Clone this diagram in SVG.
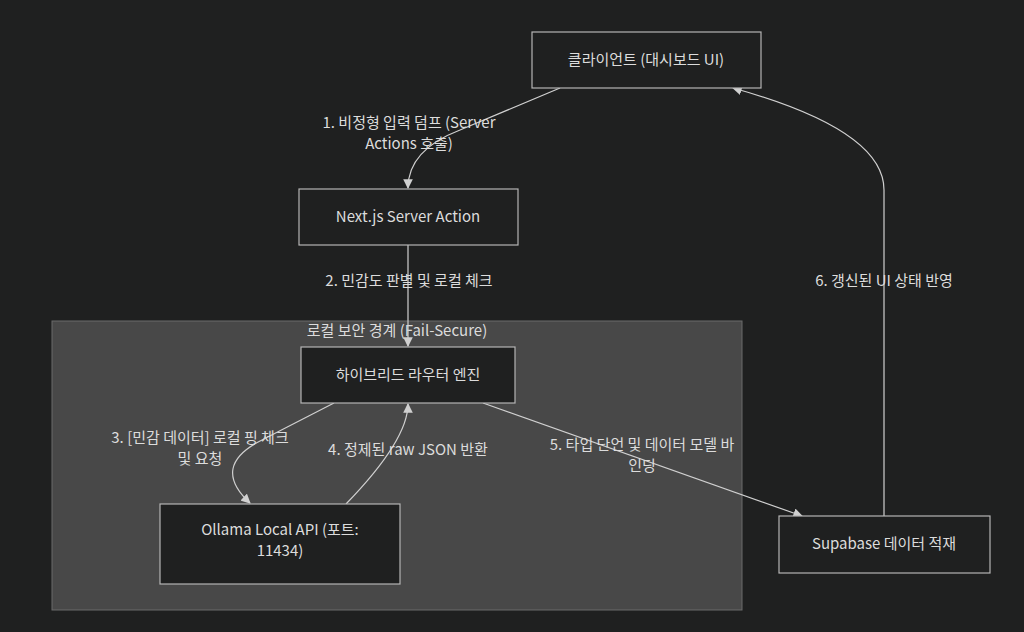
<svg xmlns="http://www.w3.org/2000/svg" width="1024" height="632" viewBox="0 0 1024 632">
<defs>
<style>
text{font-family:"Noto Sans CJK KR","Noto Sans",sans-serif;font-size:15px;fill:#dcdcdc;text-anchor:middle}
.node rect{fill:#1f2020;stroke:#b5b5b5;stroke-width:1.2}
.edge{fill:none;stroke:#d0d0d0;stroke-width:1.2;marker-end:url(#arr)}
</style>
<marker id="arr" viewBox="0 0 10 10" refX="9" refY="5" markerWidth="8" markerHeight="8" orient="auto-start-reverse"><path d="M0,0L10,5L0,10z" fill="#d0d0d0"/></marker>
</defs>
<rect width="1024" height="632" fill="#1f2020"/>
<g id="cluster"><rect x="52" y="321" width="690" height="289" fill="#484848" stroke="#6a6a6a"/><text x="397" y="336">로컬 보안 경계 (Fail-Secure)</text></g>
<g id="connectors">
<path class="edge" d="M560,88 L460,130 Q408,150 408,188"/>
<path class="edge" d="M408,245 L408,346"/>
<path class="edge" d="M884,516 L884,190 Q884,130 733,88"/>
<path class="edge" d="M334,403 L262,440 Q210,466 250,503"/>
<path class="edge" d="M346,504 Q408,440 408,404"/>
<path class="edge" d="M483,403 L802,516"/>
</g>
<g id="labels">
<text x="409" y="128">1. 비정형 입력 덤프 (Server</text>
<text x="409" y="149">Actions 호출)</text>
<text x="409" y="286">2. 민감도 판별 및 로컬 체크</text>
<text x="884" y="286">6. 갱신된 UI 상태 반영</text>
<text x="200" y="443">3. [민감 데이터] 로컬 핑 체크</text>
<text x="200" y="464">및 요청</text>
<text x="408" y="455">4. 정제된 raw JSON 반환</text>
<text x="642" y="450">5. 타입 단언 및 데이터 모델 바</text>
<text x="642" y="471">인딩</text>
</g>
<g id="client" class="node"><rect x="532" y="32" width="229" height="56"/><text x="646" y="65">클라이언트 (대시보드 UI)</text></g>
<g id="nextjs" class="node"><rect x="299" y="189" width="219" height="56"/><text x="408" y="222">Next.js Server Action</text></g>
<g id="router" class="node"><rect x="301" y="347" width="214" height="56"/><text x="408" y="380">하이브리드 라우터 엔진</text></g>
<g id="ollama" class="node"><rect x="160" y="504" width="240" height="80"/><text x="280" y="535">Ollama Local API (포트:</text><text x="280" y="556">11434)</text></g>
<g id="supabase" class="node"><rect x="779" y="516" width="211" height="57"/><text x="884" y="549">Supabase 데이터 적재</text></g>
</svg>
